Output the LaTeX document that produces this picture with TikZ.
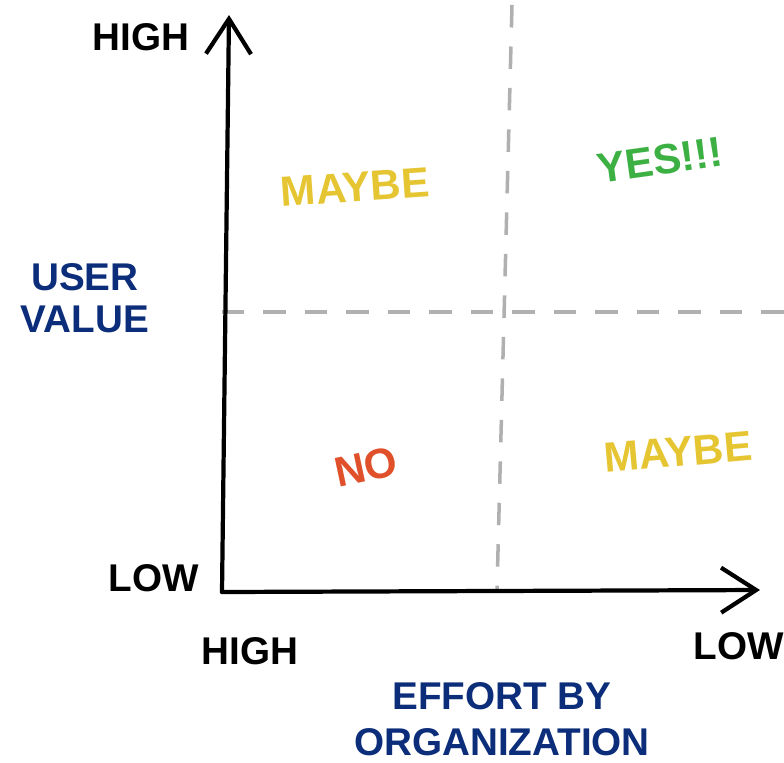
\documentclass[tikz,border=0pt]{standalone}
\usepackage{fontspec}
\setmainfont{Liberation Sans}
\usepackage{xcolor}
\usepackage{tikz}
\usetikzlibrary{arrows.meta, positioning}
\definecolor{inkblue}{HTML}{0B2D7A}
\definecolor{inkyellow}{HTML}{E6C532}
\definecolor{inkgreen}{HTML}{3DB043}
\definecolor{inkred}{HTML}{E0502A}
\definecolor{inkgray}{HTML}{B0B0B0}
\tikzstyle{axis} = [line width=2.4pt, line cap=round, line join=round, -{Straight Barb[length=0.7cm, width=0.9cm, line width=2.4pt]}]
\tikzstyle{split} = [inkgray, line width=2pt, dash pattern=on 0.45cm off 0.38cm]
\tikzstyle{tick} = [font=\fontsize{22}{26}\selectfont\bfseries, text=black, inner sep=0pt]
\tikzstyle{title} = [font=\fontsize{22}{24}\selectfont\bfseries, text=inkblue, inner sep=0pt, align=center]
\tikzstyle{quad} = [font=\fontsize{24}{28}\selectfont\bfseries, inner sep=0pt]

\begin{document}
\begin{tikzpicture}[x=0.02cm, y=-0.02cm]
		\useasboundingbox (0,0) rectangle (784,762);
		\coordinate (Origin) at (222,592);
		\coordinate (Value Tip) at (229,15);
		\coordinate (Effort Tip) at (760,590);
		\coordinate (Split Top) at (512,5);
		\coordinate (Split Bottom) at (497,590);
		\coordinate (Split Left) at (222,312);
		\coordinate (Split Right) at (784,312);
		\draw [split] (Split Top) -- (Split Bottom);
		\draw [split] (Split Left) -- (Split Right);
		\draw [axis] (Origin) -- (Value Tip);
		\draw [axis] (Origin) -- (Effort Tip);
		\node (Value High)[tick] at (141,37) {HIGH};
		\node (Value Low)[tick] at (154,578) {LOW};
		\node (Effort High)[tick] at (250,651) {HIGH};
		\node (Effort Low)[tick] at (739,646) {LOW};
		\node (User Value)[title] at (85,298) {USER\\VALUE};
		\node (Effort)[title, font=\fontsize{22}{26}\selectfont\bfseries] at (502,719) {EFFORT BY\\ORGANIZATION};
		\node (Maybe Top)[quad, text=inkyellow, rotate=4] at (355,187) {MAYBE};
		\node (Yes)[quad, text=inkgreen, rotate=8] at (660,160) {YES!!!};
		\node (No)[quad, text=inkred, rotate=12] at (366,467) {NO};
		\node (Maybe Bottom)[quad, text=inkyellow, rotate=5] at (678,452) {MAYBE};
	\end{tikzpicture}
\end{document}
